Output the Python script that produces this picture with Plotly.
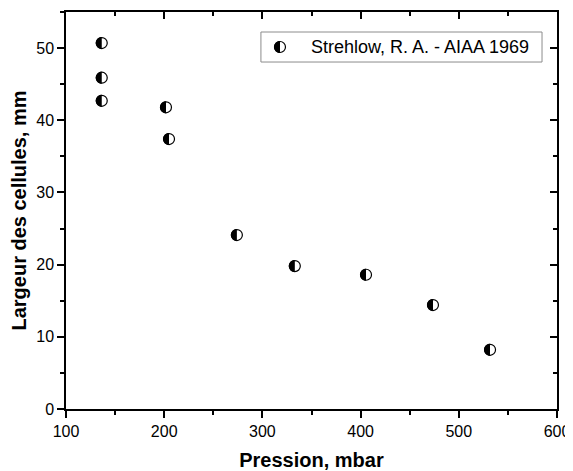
import plotly.graph_objects as go

# Data
pression = [136.4, 136.4, 136.4, 201.8, 204.9, 274.0, 333.0, 405.5, 473.7, 531.8]
largeur = [50.7, 45.9, 42.7, 41.8, 37.4, 24.1, 19.8, 18.6, 14.4, 8.2]
serie_nom = "Strehlow, R. A. - AIAA 1969"
x_titre = "Pression, mbar"
y_titre = "Largeur des cellules, mm"

FONT = "Liberation Sans, Arial, sans-serif"
R = 6.0
K = 0.5523 * R
half_path = (f"M 0,{R} C {-K},{R} {-R},{K} {-R},0 "
             f"C {-R},{-K} {-K},{-R} 0,{-R} Z")

fig = go.Figure()
fig.add_trace(go.Scatter(
    x=pression, y=largeur, mode="markers", name=serie_nom,
    marker=dict(symbol="circle", size=11, color="white",
                line=dict(color="black", width=1.2)),
    showlegend=False, cliponaxis=False,
))

shapes = []
for px, py in zip(pression, largeur):
    shapes.append(dict(type="path", xref="x", yref="y",
                       xsizemode="pixel", ysizemode="pixel",
                       xanchor=px, yanchor=py, path=half_path,
                       fillcolor="black", line=dict(width=0), layer="above"))

# Manual legend (Origin style)
shapes.append(dict(type="rect", xref="paper", yref="paper",
                   x0=0.397, x1=0.9695, y0=0.874, y1=0.9496,
                   line=dict(color="#8c8c8c", width=1), fillcolor="white",
                   layer="above"))
lx, ly = 0.4358, 0.9118
shapes.append(dict(type="circle", xref="paper", yref="paper",
                   xsizemode="pixel", ysizemode="pixel",
                   xanchor=lx, yanchor=ly, x0=-5.5, x1=5.5, y0=-5.5, y1=5.5,
                   line=dict(color="black", width=1.2), fillcolor="white",
                   layer="above"))
shapes.append(dict(type="path", xref="paper", yref="paper",
                   xsizemode="pixel", ysizemode="pixel",
                   xanchor=lx, yanchor=ly, path=half_path,
                   fillcolor="black", line=dict(width=0), layer="above"))

axis_common = dict(showgrid=False, zeroline=False, color="black",
                   automargin=False,
                   tickfont=dict(family=FONT, size=16, color="black"))

# page body has an 8px margin: shrink the figure so it fits the window
fig.update_layout(
    template="none",
    width=565, height=463,
    margin=dict(l=58, r=16, t=4, b=62),
    paper_bgcolor="white", plot_bgcolor="white",
    font=dict(family=FONT, color="black"),
    shapes=shapes,
    annotations=[dict(text=serie_nom, xref="paper", yref="paper",
                      x=0.495, y=ly, xanchor="left", yanchor="middle",
                      showarrow=False,
                      font=dict(family=FONT, size=18, color="black"))],
    xaxis=dict(range=[100, 600], dtick=100, tick0=100, ticks="outside",
               ticklen=7, tickwidth=1.5, showline=True, linewidth=1.5,
               linecolor="black", mirror=True, tickcolor="black",
               minor=dict(dtick=50, ticks="outside", ticklen=4, tickwidth=1.5,
                          tickcolor="black"),
               title=dict(text=f"<b>{x_titre}</b>", standoff=14,
                          font=dict(family=FONT, size=20, color="black")),
               **axis_common),
    yaxis=dict(range=[0, 55], dtick=10, tick0=0, ticks="outside",
               ticklen=7, tickwidth=1.5, showline=True, linewidth=1.5,
               linecolor="black", mirror=True, tickcolor="black",
               minor=dict(dtick=5, ticks="outside", ticklen=4, tickwidth=1.5,
                          tickcolor="black"),
               title=dict(text=f"<b>{y_titre}</b>", standoff=4,
                          font=dict(family=FONT, size=20, color="black")),
               **axis_common),
    xaxis2=dict(overlaying="x", matches="x", side="top", anchor="y",
                range=[100, 600], dtick=100, tick0=100, ticks="inside",
                ticklen=7, tickwidth=1.5, showticklabels=False,
                showline=False, showgrid=False, zeroline=False,
                automargin=False,
                minor=dict(dtick=50, ticks="inside", ticklen=4, tickwidth=1.5,
                           tickcolor="black"),
                tickcolor="black"),
    yaxis2=dict(overlaying="y", matches="y", side="right", anchor="x",
                range=[0, 55], dtick=10, tick0=0, ticks="inside",
                ticklen=7, tickwidth=1.5, showticklabels=False,
                showline=False, showgrid=False, zeroline=False,
                automargin=False,
                minor=dict(dtick=5, ticks="inside", ticklen=4, tickwidth=1.5,
                           tickcolor="black"),
                tickcolor="black"),
)
# invisible trace to activate the mirrored inside-tick axes
fig.add_trace(go.Scatter(x=[None], y=[None], xaxis="x2", yaxis="y2",
                         showlegend=False, hoverinfo="skip"))

fig.write_html("out.html")
